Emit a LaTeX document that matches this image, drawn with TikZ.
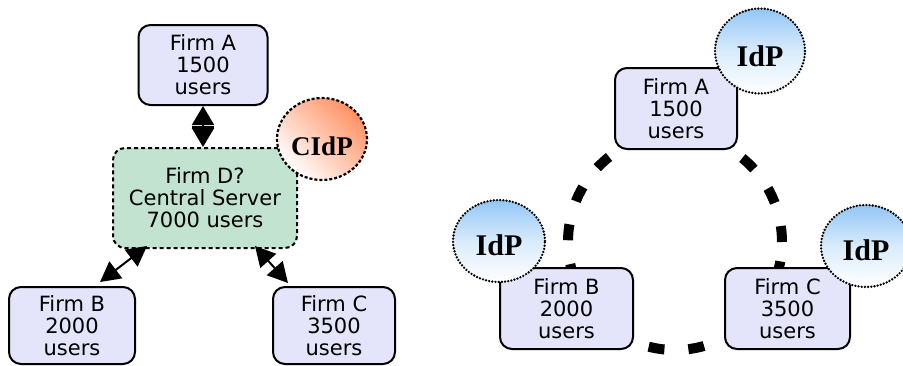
\documentclass[tikz,border=0pt]{standalone}
\usepackage{fontspec}
\setmainfont{DejaVu Sans}
\newfontfamily\idpfont{Liberation Serif}
\usetikzlibrary{arrows.meta,shapes.geometric,calc}
\definecolor{firmfill}{HTML}{E4E4FA}
\definecolor{centralfill}{HTML}{C2E3D0}
\definecolor{cidporange}{HTML}{FF9163}
\definecolor{idpblue}{HTML}{92C6F6}
\tikzset{
  firm/.style={draw=black, line width=2pt, rounded corners=12pt, fill=firmfill,
    align=center, inner sep=0pt, font=\fontsize{21}{22}\selectfont},
  central/.style={firm, fill=centralfill, dash pattern=on 4pt off 3pt},
  cidp/.style={ellipse, draw=black, line width=2.2pt, dash pattern=on 3pt off 2pt,
    top color=cidporange, bottom color=white, middle color=cidporange!50!white, shading angle=-45,
    inner sep=0pt, text height=32pt, text depth=0pt,
    font=\idpfont\bfseries\fontsize{27}{27}\selectfont},
  idp/.style={ellipse, draw=black, line width=2.6pt, dash pattern=on 0pt off 3.2pt, line cap=round,
    top color=idpblue, bottom color=white, middle color=idpblue!35!white,
    inner sep=0pt, text depth=0pt,
    font=\idpfont\bfseries\fontsize{30}{30}\selectfont},
  link/.style={line width=2pt, {Triangle[length=20pt,width=21pt]}-{Triangle[length=20pt,width=21pt]}},
  halflink/.style={line width=2pt, -{Triangle[length=19pt,width=22pt]}},
  ring/.style={line width=10pt, dash pattern=on 16pt off 24pt}
}
\begin{document}
\begin{tikzpicture}[x=1pt,y=-1pt]
\clip (0,0) rectangle (903,365);
\fill[white] (0,0) rectangle (903,365);
% ---------- left: central server ----------
\node[firm, minimum width=129pt, minimum height=80pt] (lA) at (203,65) {Firm A\\1500\\users};
\node[central, minimum width=184pt, minimum height=100pt] (lD) at (205,198) {Firm D?\\Central Server\\7000 users};
\node[firm, minimum width=126pt, minimum height=77pt] (lB) at (72,325.5) {Firm B\\2000\\users};
\node[firm, minimum width=122pt, minimum height=77pt] (lC) at (334,325.5) {Firm C\\3500\\users};
\node[cidp, minimum width=90pt, minimum height=82pt] (cidp) at (322,139) {CIdP};
\coordinate (mid) at ($(lA.south)!0.5!(lA.south |- lD.north)$);
\draw[halflink] (mid) -- (lA.south);
\draw[halflink] (mid) -- (lA.south |- lD.north);
\draw[line width=2pt] ([xshift=-11pt]mid) -- ([xshift=11pt]mid);
\draw[link] ([xshift=-58pt,yshift=3pt]lD.south) -- ([xshift=28pt,yshift=4pt]lB.north);
\draw[link] ([xshift=50pt,yshift=3pt]lD.south) -- ([xshift=-46pt,yshift=3pt]lC.north);
% ---------- right: federated ring ----------
\coordinate (ringc) at (675,242);
\draw[ring] (ringc) ellipse [x radius=107pt, y radius=108pt];
\node[firm, minimum width=122pt, minimum height=81pt] (rA) at (676,108.5) {Firm A\\1500\\users};
\node[firm, minimum width=133pt, minimum height=81pt] (rB) at (566.5,308.5) {Firm B\\2000\\users};
\node[firm, minimum width=125pt, minimum height=81pt] (rC) at (787.5,308.5) {Firm C\\3500\\users};
\node[idp, text height=30pt, minimum width=90pt, minimum height=85pt] (idpA) at (760,51) {IdP};
\node[idp, text height=28pt, minimum width=92pt, minimum height=82pt] (idpB) at (499,241) {IdP};
\node[idp, text height=28pt, minimum width=90pt, minimum height=82pt] (idpC) at (866,246) {IdP};
\end{tikzpicture}
\end{document}
